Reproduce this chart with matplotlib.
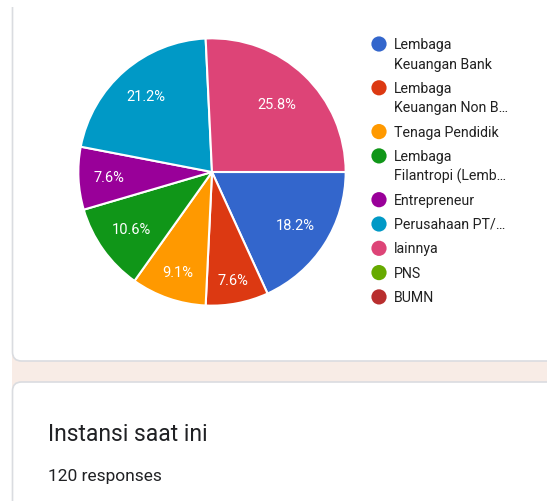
import matplotlib
matplotlib.use("Agg")
import numpy as np
import matplotlib.pyplot as plt
from matplotlib.patches import FancyBboxPatch, Rectangle

plt.rcParams['font.family'] = ['Roboto', 'DejaVu Sans']

# data (counts out of 66 answers shown in the pie)
labels = ["Lembaga\nKeuangan Bank", "Lembaga\nKeuangan Non B\u2026", "Tenaga Pendidik",
          "Lembaga\nFilantropi (Lemb\u2026", "Entrepreneur", "Perusahaan PT/\u2026",
          "lainnya", "PNS", "BUMN"]
counts = [12, 5, 6, 7, 5, 14, 17, 0, 0]
colors = ["#3366cc", "#dc3912", "#ff9900", "#109618", "#990099", "#0099c6",
          "#dd4477", "#66aa00", "#b82e2e"]
title = "Instansi saat ini"
subtitle = "120 responses"

W, H = 547, 502
fig = plt.figure(figsize=(W / 100, H / 100), dpi=100)

# background in pixel coordinates
bg = fig.add_axes([0, 0, 1, 1])
bg.set_xlim(0, W)
bg.set_ylim(H, 0)
bg.axis('off')
bg.add_patch(Rectangle((12, 350), W, 45, facecolor="#f8ece6", edgecolor="none"))
bg.add_patch(FancyBboxPatch((12.5, -40), 700, 402, boxstyle="round,pad=0,rounding_size=9",
                            facecolor="white", edgecolor="#dadce0", linewidth=1.2))
bg.add_patch(Rectangle((0, -5), 30, 13, facecolor="white", edgecolor="none", zorder=2))
bg.add_patch(FancyBboxPatch((12.5, 383), 700, 200, boxstyle="round,pad=0,rounding_size=9",
                            facecolor="white", edgecolor="#dadce0", linewidth=1.2))
bg.text(48, 441, title, fontsize=16.5, color="#202124", va="baseline")
bg.text(48, 481, subtitle, fontsize=12.5, color="#202124", va="baseline")

# legend, drawn by hand like google forms
y = 45
for lab, c in zip(labels, colors):
    bg.scatter([379], [y], s=120, color=c, edgecolors="none", zorder=3)
    lines = lab.split("\n")
    for k, ln in enumerate(lines):
        bg.text(394, y + k * 19.5, ln, fontsize=10.2, color="#212121", va="center")
    y += 24.3 + 19.5 * (len(lines) - 1)

# pie
cx, cy, r = 212, 173, 135
pax = fig.add_axes([(cx - r) / W, (H - cy - r) / H, 2 * r / W, 2 * r / H])
vals = [v for v in counts if v > 0]
cols = [c for v, c in zip(counts, colors) if v > 0]
wedges, texts, autotexts = pax.pie(vals, colors=cols, startangle=0, counterclock=False,
                                   autopct='%.1f%%', pctdistance=0.72, radius=1,
                                   wedgeprops=dict(edgecolor="white", linewidth=1.5),
                                   textprops=dict(color="white", fontsize=10.5))
# google pushes labels of thin slices a bit further out
label_dist = [0.74, 0.82, 0.79, 0.74, 0.77, 0.75, 0.70]
for w, t, d in zip(wedges, autotexts, label_dist):
    a = np.deg2rad((w.theta1 + w.theta2) / 2)
    t.set_position((d * np.cos(a), d * np.sin(a)))
pax.set_xlim(-1.01, 1.01)
pax.set_ylim(-1.01, 1.01)
pax.set_aspect('equal')

fig.savefig("out.png", dpi=100)
